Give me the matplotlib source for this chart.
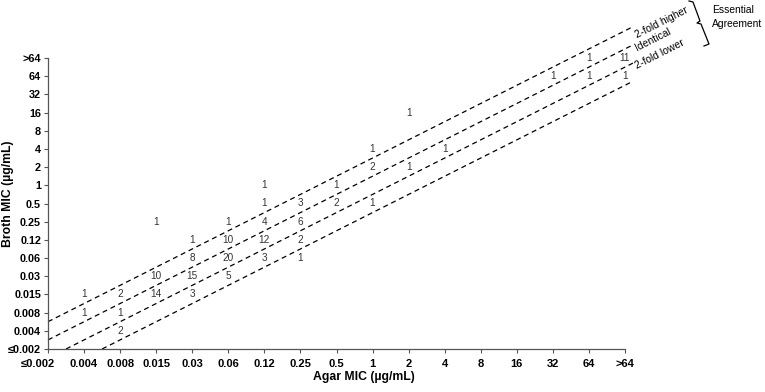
import matplotlib
matplotlib.use("Agg")
import matplotlib.pyplot as plt
from matplotlib.transforms import ScaledTranslation
import numpy as np

plt.rcParams['font.family'] = ['Liberation Sans', 'DejaVu Sans']

categories = ['≤0.002', '0.004', '0.008', '0.015', '0.03', '0.06', '0.12', '0.25',
              '0.5', '1', '2', '4', '8', '16', '32', '64', '>64']

agar_mic = ['0.004', '0.004', '0.008', '0.008', '0.008',
            '0.015', '0.015', '0.015',
            '0.03', '0.03', '0.03', '0.03',
            '0.06', '0.06', '0.06', '0.06',
            '0.12', '0.12', '0.12', '0.12', '0.12',
            '0.25', '0.25', '0.25', '0.25',
            '0.5', '0.5',
            '1', '1', '1',
            '2', '2', '4', '32', '64', '64', '>64', '>64']
broth_mic = ['0.015', '0.008', '0.015', '0.008', '0.004',
             '0.25', '0.03', '0.015',
             '0.12', '0.06', '0.03', '0.015',
             '0.25', '0.12', '0.06', '0.03',
             '1', '0.5', '0.25', '0.12', '0.06',
             '0.5', '0.25', '0.12', '0.06',
             '1', '0.5',
             '4', '2', '0.5',
             '16', '2', '4', '64', '>64', '64', '>64', '64']
counts = [1, 1, 2, 1, 2,
          1, 10, 14,
          1, 8, 15, 3,
          1, 10, 20, 5,
          1, 1, 4, 12, 3,
          3, 6, 2, 1,
          1, 2,
          1, 2, 1,
          1, 1, 1, 1, 1, 1, 11, 1]

line_offsets = [1.5, 0.5, -0.5, -1.5]
band_labels = ['2-fold higher', 'Identical', '2-fold lower']
band_label_offsets = [0.95, 0.22, -0.75]

W, H = 765, 392
fig = plt.figure(figsize=(W / 100, H / 100), dpi=100)
ax = fig.add_axes([48 / W, 1 - 349 / H, (625 - 48) / W, (349 - 58) / H])

n = len(categories)
idx = {c: i for i, c in enumerate(categories)}
ax.set_xlim(0, n - 1)
ax.set_ylim(0, n - 1)

# dashed agreement lines
x_end = 16.22
for off in line_offsets:
    x0 = max(0.0, -off)
    xs = np.array([x0, x_end])
    ax.plot(xs, xs + off, color='black', lw=0.9, ls=(0, (4, 3)), clip_on=False)

# band labels
ang = np.degrees(np.arctan2((349 - 58) / (n - 1), (625 - 48) / (n - 1)))
for lab, off in zip(band_labels, band_label_offsets):
    xl = 16.3
    ax.text(xl, xl + off, lab, rotation=ang, rotation_mode='anchor',
            ha='left', va='center', fontsize=7.5, color='black', clip_on=False)

# counts
for a, b, c in zip(agar_mic, broth_mic, counts):
    ax.text(idx[a], idx[b], str(c), ha='center', va='center', fontsize=7.2,
            color='#333333', clip_on=False)

ax.set_xticks(range(n))
ax.set_xticklabels(categories, fontsize=8, fontweight='bold')
ax.set_yticks(range(n))
ax.set_yticklabels(categories, fontsize=7.8, fontweight='bold')
ax.tick_params(axis='both', direction='out', length=3, width=0.8, color='#555555')
ax.tick_params(axis='x', pad=4)
ax.tick_params(axis='y', pad=2)

# shift the first x label slightly left, as in the reference
lab0 = ax.get_xticklabels()[0]
lab0.set_transform(lab0.get_transform() + ScaledTranslation(-10 / 100, 0, fig.dpi_scale_trans))

for s in ['top', 'right']:
    ax.spines[s].set_visible(False)
for s in ['left', 'bottom']:
    ax.spines[s].set_color('#555555')
    ax.spines[s].set_linewidth(0.9)

fig.text(364 / W, 1 - 377 / H, 'Agar MIC (µg/mL)', ha='center', va='center',
         fontsize=8.8, fontweight='bold')
fig.text(8 / W, 1 - 194 / H, 'Broth MIC (µg/mL)', ha='center', va='center',
         rotation=90, fontsize=8.8, fontweight='bold')

# brace for Essential Agreement (figure pixel coords)
bx = [689, 693, 700, 697, 701, 709, 704]
by = [1, 2, 21, 23, 24, 44, 46]
fig.add_artist(plt.Line2D([v / W for v in bx], [1 - v / H for v in by],
                          color='black', lw=0.9, transform=fig.transFigure))
fig.text(712 / W, 1 - 10 / H, 'Essential', ha='left', va='center', fontsize=7.4)
fig.text(712 / W, 1 - 24 / H, 'Agreement', ha='left', va='center', fontsize=7.4)

fig.savefig('out.png', dpi=100)
